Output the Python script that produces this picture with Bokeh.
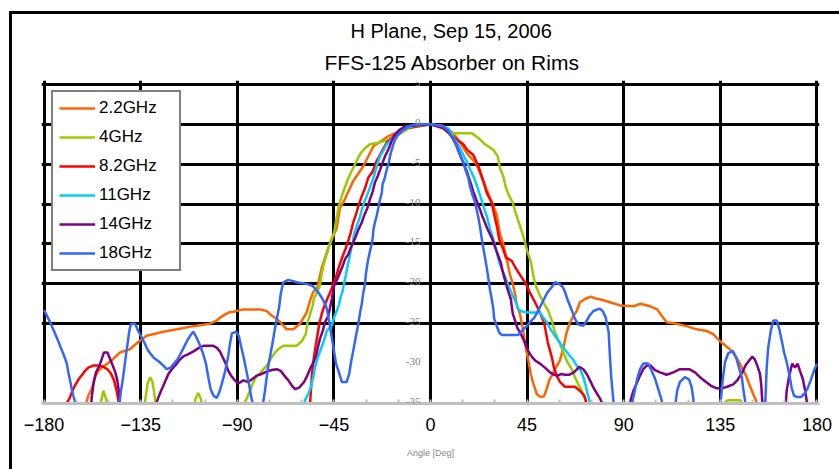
from bokeh.plotting import figure
from bokeh.models import (Range1d, FixedTicker, Legend, LegendItem, Title, LabelSet,
                          ColumnDataSource, Grid)
from bokeh.embed import file_html
from bokeh.resources import INLINE

title_line1 = "H Plane, Sep 15, 2006"
title_line2 = "FFS-125 Absorber on Rims"
x_title = "Angle [Deg]"

x_ticks = [-180, -135, -90, -45, 0, 45, 90, 135, 180]
x_minor = [-165, -150, -120, -105, -75, -60, -30, -15, 15, 30, 60, 75, 105, 120, 150, 165]
y_ticks = [5, 0, -5, -10, -15, -20, -25, -30, -35]
y_grid = [5, 0, -5, -10, -15, -20, -25]

series_names = ["2.2GHz", "4GHz", "8.2GHz", "11GHz", "14GHz", "18GHz"]
series_colors = ["#FF6600", "#99CC00", "#FF0000", "#00CCFF", "#800080", "#3366FF"]

ang_22 = [-180, -163, -160.2, -159.4, -157.8, -156.3, -154.7, -153.1, -148.5, -144.6, -140, -135.3, -132.2,
          -124.4, -118.2, -110.5, -102.7, -99.6, -97.3, -94.2, -91.8, -87.2, -79.4, -76.3, -74.8, -71.6,
          -69.3, -67, -63.9, -60.8, -57.7, -56.1, -54.6, -52.7, -50.7, -47.6, -43.7, -42.2, -39.9, -36,
          -31.3, -26.6, -19.7, -10, 0, 6, 11, 14, 16.9, 21.5, 26.2, 29.3, 30.8, 32.4, 33.9, 35.5, 37, 38.3,
          39.4, 40.1, 41.7, 43.2, 44.5, 45.6, 46.7, 47.9, 49.5, 51.3, 52.9, 54.1, 55.3, 56.9, 58, 60.3,
          61.9, 63.4, 64.7, 66.2, 68.1, 69.6, 72, 74.6, 76.6, 79.7, 83.6, 88.3, 94.5, 97.9, 102.2, 105.6,
          107.7, 110, 114.7, 119.3, 124, 128.6, 131.7, 134.5, 137.6, 140.3, 143.4, 145, 147, 148.8, 150.3,
          151.6, 154, 180]
db_22 = [-38, -37, -34.8, -34, -33.2, -31.7, -30.9, -30.5, -29.6, -28.6, -28.2, -27.1, -26.5,
         -26, -25.7, -25.3, -25, -24.6, -24.1, -23.6, -23.5, -23.2, -23.2, -23.4, -23.8, -24.4,
         -25, -25.7, -25.7, -25, -23.6, -22.1, -21, -20.5, -18, -15.5, -13, -10.5, -9.4, -7.1,
         -5.25, -2.75, -1.5, -0.3, 0, -0.2, -1.2, -2.4, -3.6, -5, -8.2, -10.25, -11.3, -13.8, -15, -16.9, -18.8, -20,
         -21.3, -22.5, -23.8, -25.9, -28.2, -29.6, -31.3, -32.5, -33.8, -34.2, -34.1, -33.2, -32.1, -31.3, -30.7, -29.6,
         -28, -26.1, -25, -24.2, -23.4, -22.3, -21.9, -21.6, -21.8, -22, -22.3, -22.7, -22.8, -22.5, -22.8, -23.2,
         -24, -24.8, -25, -25.3, -25.7, -25.9, -26.3, -27.1, -27.8, -28.4, -29.6, -30.5, -31.5, -32.8, -33.8,
         -34.6, -37, -38]

ang_4 = [-180, -155, -153.5, -152.4, -151, -150, -134, -133, -131.8, -130.6, -129.5, -128.5, -127.5, -111,
         -109.5, -108.2, -107, -105.5, -88, -86.4, -85.3, -84.1, -82.8, -81.3, -79.4, -77.1, -75.5, -74,
         -72.4, -70.9, -68.6, -62.3, -60, -58.1, -57.4, -56.1, -54.9, -54.3, -52.7, -51.5, -50.7, -49.5,
         -48.1, -46.5, -44.9, -44, -42.9, -41.8, -40.3, -38.8, -37.2, -35.6, -34.1, -32.5, -30.5, -28.2,
         -24.3, -18.9, -10, 0, 5, 9.1, 19.2, 22.3, 25.4, 29.3, 31.3, 32.4, 33.9, 35.2, 36.7, 38.3, 39.4,
         40.9, 42.5, 44, 45.3, 46.8, 47.9, 49.1, 50.7, 52.5, 54.9, 56.5, 58, 60, 61.9, 63.7, 65.8, 67.3,
         68.9, 70.4, 72, 74, 136, 137.5, 138.5, 144.5, 145.5, 180]
db_4 = [-38, -37, -34.8, -33.4, -34.5, -37, -37, -34.8, -32.5, -31.7, -32.3, -34, -37, -37,
        -34.4, -33.7, -34.4, -37, -37, -34.8, -34.2, -33.4, -32.5, -31.7, -31.2, -30.5, -30, -29.2,
        -28.6, -28.2, -27.75, -27.75, -27.2, -26.3, -25, -23.8, -22.75, -21.8, -21, -20.2, -18.8, -17.3,
        -16.1, -14.6, -13.6, -12.1, -10.5, -9.4, -8.2, -7.1, -6.1, -5.25, -4.4, -3.6, -3, -2.5,
        -2.3, -1.9, -0.5, 0, -0.4, -1.1, -1.1, -1.7, -2.5, -3.2, -4, -5.5, -6.5, -8, -9, -9.8, -10.9,
        -12.1, -13.4, -14.8, -16.1, -17.3, -19, -20.25, -21.3, -22.3, -23.4, -24.6, -26.1, -27.3, -28.6, -29.8, -30.7, -31.7,
        -32.6, -33.4, -34.2, -37, -37, -34.8, -34.6, -34.6, -37, -38]

ang_82 = [-180, -171, -169.1, -168.2, -167.1, -165.6, -164, -162.5, -160.9, -159.4, -157.1, -154.7, -152.4,
          -150.5, -148.9, -147.4, -146.2, -145.4, -144, -58, -56.1, -55.7, -55.3, -54.9, -54.3, -53.5, -52.7,
          -51.8, -50.7, -49.5, -48.1, -46.8, -44.9, -43.7, -42.2, -40.6, -39.4, -38.3, -37.2, -36, -34.7,
          -33.6, -32, -30.5, -29, -26.9, -25.1, -22.7, -20.4, -17.3, -11.9, 0, 6, 9, 12.2, 15.3, 17.1, 19.9,
          22.3, 24.6, 26.2, 28.5, 30, 31.1, 32, 33.9, 35.2, 37.8, 40.1, 42, 44.5, 46.3, 47.9, 49.5, 51.3,
          52.9, 53.8, 54.6, 55.7, 56.7, 57.5, 58.8, 60.3, 62.6, 67.3, 69.6, 71.5, 72.3, 74, 180]
db_82 = [-38, -37, -34.8, -34.4, -33.6, -32.75, -32, -31.5, -30.9, -30.5, -30.25, -30.25, -30.4,
         -30.7, -31.2, -32.1, -33.4, -34.6, -37, -37, -35, -33.4, -31.7, -30.5, -29.2, -27.75, -26.5,
         -25, -23.8, -22.8, -21.9, -21.1, -19.8, -18.8, -17.5, -16.3, -15.5, -14.6, -13.6, -12.3, -11.3,
         -10.25, -9, -8, -6.7, -5.9, -4.6, -3.4, -2.3, -1.5, -0.5, 0, -0.5, -1.2, -1.9, -2.5, -3.2, -3.8,
         -5.25, -7.1, -8.6, -9.8, -11.7, -13, -14.4, -15.7, -16.7, -17.1, -18.2, -19, -20, -21.1, -21.9, -22.75, -23.8,
         -24.8, -26.1, -27.3, -28.4, -29.4, -30.5, -31.5, -32.3, -32.9, -32.9, -33.4, -34, -34.6, -37, -38]

ang_11 = [-180, -60, -58.5, -56.9, -55.8, -54.6, -53.8, -52.7, -51.1, -49.6, -48.3, -46, -44.9, -43.7,
          -42.6, -41.8, -41.1, -40.3, -39.5, -38.8, -37.9, -37.2, -36.2, -35.6, -34.4, -33.2, -32, -31,
          -29.7, -28.2, -26.9, -25.9, -24.8, -23.5, -22, -20.4, -18.1, -16.5, -14.2, -8, 0, 5, 8.3, 10.3,
          12.2, 14.1, 15.6, 17.1, 18.7, 20.3, 21.5, 22.7, 23.8, 24.9, 26.2, 27.2, 28, 29.3, 30.4, 31.3, 32,
          33.6, 35.2, 36.7, 38.3, 39.8, 40.9, 43, 45.4, 51, 52.5, 54.1, 56, 58, 60, 61.9, 64.2, 66.2, 68.1,
          70, 71.2, 72.3, 73.2, 74, 76, 180]
db_11 = [-38, -37, -34.6, -33.8, -33, -31.7, -30.5, -29.4, -28.2, -27.1, -25.9, -25.25, -24.2, -23.4,
         -22.6, -21.6, -21.1, -20, -19, -18, -16.9, -15.9, -14.8, -13.8, -12.75, -11.9, -10.7, -9.8,
         -9, -7.9, -6.9, -6.1, -5, -4, -3.3, -2.5, -1.9, -1.3, -0.7, -0.2, 0, -0.2, -0.5, -1.5,
         -2.3, -3.2, -4, -4.8, -5.8, -6.7, -7.6, -8.6, -9.5, -10.5, -11.5, -12.5, -13.4, -14.4, -15.5, -16.5, -17.3,
         -18.4, -19.4, -20.5, -21.5, -22.3, -23.2, -23.5, -23.6, -23.6, -24.2, -24.8, -25.7, -26.5, -27.3, -28, -28.8, -29.4, -30.25,
         -30.9, -31.7, -32.75, -33.8, -34.6, -37, -38]

ang_14 = [-180, -160, -158, -157.8, -157.3, -156.7, -155.8, -154.2, -153.1, -152.1, -150.5, -149.3, -148,
          -146.8, -145.9, -145.2, -144.6, -143, -129, -127.5, -126.7, -125.5, -124.4, -123.2, -122.1, -120.5,
          -119, -117.1, -115.1, -112.8, -110, -107.7, -105.5, -101.4, -99.6, -98, -96.8, -95.4, -94.2, -92.9,
          -91.5, -89.5, -87.2, -84.9, -82.8, -80.9, -78.6, -76.3, -74, -71.6, -69.8, -67.8, -66.2, -64.6,
          -63.1, -61.1, -58.9, -57.4, -55.8, -54.3, -53.3, -52.5, -51.5, -50.2, -49.1, -47.6, -46.8, -46,
          -44.9, -43.4, -42.2, -40.9, -39.8, -38.3, -37.2, -36, -34.7, -33.6, -32, -31, -29.4, -28.2, -26.9,
          -25.9, -24.6, -23.5, -22.3, -21.2, -19.7, -18.4, -16.9, -14.5, -11.9, 0, 6, 8.3, 10.3, 11.9, 13.1,
          14.3, 15.6, 16.9, 17.9, 18.9, 19.9, 21, 22.1, 23.1, 24.1, 25.2, 26.2, 27.2, 28.5, 29.6, 30.5, 31.6,
          32.7, 33.6, 34.6, 35.5, 36.4, 37.4, 38.3, 39.4, 40.4, 41.7, 43.2, 44.5, 45.7, 47.1, 48.7, 51, 53.3,
          55.7, 57.5, 59, 61.1, 62.6, 64.5, 66.8, 69.3, 71.2, 72.8, 74.3, 75.9, 77.4, 79, 79.7, 81, 92, 93.3,
          94.5, 96, 97.6, 99.1, 100.7, 102.6, 104.6, 106.9, 110, 113.1, 116.2, 120.5, 123.2, 125.5, 127.9,
          130.5, 133.3, 135.6, 138.2, 141, 142.9, 145, 147, 148.8, 149.9, 151.1, 152.2, 153.5, 154.1, 154.5,
          155.5, 165, 165.9, 167.1, 168.5, 169.8, 171, 172.1, 173.4, 174.4, 175.2, 176, 180]
db_14 = [-38, -37, -35, -34.2, -33.2, -32.1, -31.1, -30.25, -29.4, -28.6, -28.6, -29.4, -30.25,
         -31.1, -32.1, -33.4, -35, -37, -37, -34.8, -34.2, -33.4, -32.75, -32, -31.3, -30.7,
         -30.25, -29.6, -29.1, -28.8, -28.4, -28, -27.75, -27.75, -28, -28.5, -29.2, -30, -30.9, -31.5,
         -32, -32.5, -32.1, -32.3, -31.9, -31.5, -31.3, -31, -30.8, -30.7, -30.9, -31.6, -32.1, -32.75,
         -33.2, -33, -32.3, -31.5, -30.5, -29.7, -29, -28, -26.9, -25.9, -24.8, -24, -23, -21.9,
         -20.25, -19.4, -18.6, -17.75, -16.9, -16.3, -15.5, -14.8, -14, -13.2, -12.3, -11.5, -10.5, -9.4, -8.4,
         -7.3, -6.5, -5.7, -4.8, -4, -3.2, -2.3, -1.4, -0.7, -0.25, 0, -0.4, -1, -1.7, -2.5, -3.4,
         -4.2, -5, -5.9, -6.7, -7.5, -8.4, -9.2, -10, -10.7, -11.5, -12.2, -12.9, -13.5, -14.2, -15, -15.7, -16.5,
         -17.3, -18.4, -19.4, -20.3, -21.1, -21.9, -23.7, -24.6, -25.5, -26.1, -26.9, -27.75, -28.5, -29.1, -29.6, -30, -30.5,
         -31.1, -31.4, -31.5, -31.3, -31.4, -31.4, -31.1, -30.4, -30.7, -31.3, -32.1, -33, -33.7, -34.4, -34.8, -37, -37, -34.5,
         -33.4, -32.5, -31.5, -30.7, -30.25, -30.25, -30.8, -31.1, -31.4, -31.1, -30.7, -30.7, -31.1, -31.7, -32.2,
         -32.75, -33.1, -33.1, -32.9, -32.6, -32.1, -31.2, -30.1, -29.5, -29.1, -29.5, -30.25, -31.3, -32.75, -34.6,
         -37, -37, -33.4, -31.5, -30, -30.5, -30, -30.9, -31.9, -33.2, -34.6, -37, -38]

ang_18 = [-180, -179.4, -177.2, -175.4, -173.8, -172.2, -170.7, -169.4, -168.7, -167.9, -167.1, -166.4, -165.6,
          -164, -146, -144.9, -144.3, -143.4, -142.6, -141.8, -141, -140.3, -139.5, -137.6, -136.5, -135,
          -133.4, -131.9, -130.3, -128.8, -126.7, -124.4, -122.9, -121, -119.5, -117.9, -116.3, -114.8, -113.3,
          -111.7, -110.5, -109.2, -107.7, -106.1, -104.6, -103.5, -102.4, -101.1, -99.6, -98.4, -97.3, -95.7,
          -94.2, -93.4, -92.5, -90.6, -89.3, -88.3, -86.9, -85.6, -84.4, -83.5, -82.8, -81, -79, -77.9, -77.1,
          -76.3, -75.4, -74.4, -73.5, -72.4, -71.3, -70.4, -69.8, -68.6, -66.2, -62.3, -57.7, -54.9, -52.7,
          -50.7, -48.7, -48.1, -47, -45.5, -44, -42.4, -41.3, -39, -37.9, -37, -36, -34.7, -33.6, -32.8, -32,
          -31.3, -30.5, -30.2, -29.7, -29, -28.2, -27.4, -26.9, -26.6, -25.9, -25.1, -24.3, -23.5, -22.7, -22.3,
          -21.3, -20.4, -19.3, -18.5, -17.6, -16.5, -15, -12.7, -10.3, -7.2, 0, 6, 8.3, 9.9, 11.4, 12.9, 14.1,
          15.3, 16.4, 17.6, 18.4, 19.5, 20.7, 21.5, 22.3, 23.1, 23.8, 24.6, 25.4, 26.2, 26.9, 27.7, 28.5, 29.3,
          29.6, 30.8, 32, 33.2, 40.9, 42.5, 44.5, 46.3, 48.2, 49.7, 51.3, 52.9, 54.4, 56.5, 58, 60, 61.6, 62.8,
          63.7, 65, 66.2, 67.3, 68.9, 71.2, 72.8, 74.3, 75.9, 78.7, 80.2, 81.6, 82.4, 83, 83.6, 84.2, 84.9,
          85.2, 86, 93, 94.2, 95.3, 96.3, 97.6, 99.1, 101.4, 103, 104.6, 106.1, 107.7, 108.5, 113.5, 114.3,
          114.9, 116.2, 118.5, 120.5, 121.7, 122.4, 123, 134.5, 135.2, 136.1, 137.2, 138.7, 140.8, 142.3,
          143.7, 145, 145.7, 146.5, 147.5, 155, 156, 156.6, 157.3, 158.5, 159.7, 161.3, 162.5, 163.6, 164.7,
          165.9, 167.1, 168.2, 169.3, 170.8, 172.6, 174, 175.5, 177.1, 178.6, 180]
db_18 = [-23.3, -23.6, -24.8, -25.9, -26.9, -28, -29, -30, -31.1, -32.1, -33.2, -34, -34.8,
         -37, -37, -35, -33.6, -32.1, -30.5, -28.8, -27.3, -25.9, -25, -25, -25.7, -26.5,
         -27.3, -28.2, -28.8, -29.3, -29.7, -30.25, -30.7, -30.5, -30, -29.5, -28.7, -27.9, -27.1,
         -26.4, -26, -26.6, -27.5, -28.6, -30, -31.7, -33.2, -34, -34.3, -33.6, -32.6, -31,
         -29, -27.5, -26.2, -26, -26.5, -27.75, -29.4, -31.1, -32.75, -34.2, -35, -37, -37, -34.8, -33.4,
         -31.7, -30, -28.6, -27.3, -25.5, -24, -22.75, -21.3, -19.8, -19.5, -19.8, -20, -20.25, -20.9,
         -21.7, -22.75, -23.4, -25, -27.5, -30, -31.3, -32.3, -32.3, -31.3, -29.8, -28.4, -26.5, -25, -23.6, -22.5,
         -21.1, -20, -19, -18, -16.9, -15.9, -15, -14.2, -13.2, -12.3, -11.5, -10.5, -9.4, -8.6, -7.5,
         -6.7, -5.7, -4.6, -3.6, -2.75, -1.9, -1.3, -0.7, -0.25, 0, 0, -0.25, -0.8, -1.6, -2.3, -3.2, -4,
         -4.8, -5.8, -6.7, -7.75, -8.8, -9.7, -10.7, -11.7, -12.9, -14.2, -15.5, -16.7, -18, -19.2, -20.7, -21.9, -23.2,
         -24.3, -25.25, -26.1, -26.4, -26.4, -25.9, -25.4, -24.8, -24.3, -23.6, -22.75, -21.9, -21.1, -20.4, -19.8, -20, -20.4, -21.1,
         -21.9, -22.75, -23.6, -24.4, -25.1, -25.25, -24.6, -23.9, -23.4, -23.1, -23.4, -24.2, -25.25, -26.1, -29.2, -31.7, -33.8,
         -34.6, -37, -37, -34.6, -33.2, -31.9, -30.7, -30, -30, -30.9, -31.9, -33.2, -34.6, -37, -37, -34.6,
         -33.4, -32.3, -31.7, -32, -33, -34.4, -37, -37, -34.6, -32.1, -29.8, -28.7, -28.4, -29.2,
         -30.5, -31.7, -33.2, -34.6, -37, -37, -34.6, -30.5, -28, -25.9, -24.6, -24.6, -25.7, -27.1, -28.6,
         -29.8, -31.3, -33, -34, -34.2, -34.2, -33.8, -33.2, -32.1, -30.9, -30]

angles = [ang_22, ang_4, ang_82, ang_11, ang_14, ang_18]
levels = [db_22, db_4, db_82, db_11, db_14, db_18]

FONT = "Liberation Sans"

p = figure(width=839, height=469, output_backend="svg", toolbar_location=None,
           x_range=Range1d(-181.2, 181.2), y_range=Range1d(-35, 5.5),
           y_axis_location=None, title=None,
           min_border_left=41, min_border_right=20, min_border_top=80, min_border_bottom=66)
p.outline_line_color = None
p.background_fill_color = "white"
p.border_fill_color = None
# outer chart frame (left and top edges; the rest lies beyond the window)
p.styles = {
    "background": ("linear-gradient(#000, #000) 9px 11px / 3px 100% no-repeat, "
                   "linear-gradient(#000, #000) 9px 11px / 100% 3px no-repeat, #fff"),
}

# grids
p.xgrid.ticker = FixedTicker(ticks=x_ticks)
p.xgrid.grid_line_color = "black"
p.xgrid.grid_line_width = 3
p.ygrid.grid_line_color = None
p.add_layout(Grid(dimension=1, ticker=FixedTicker(ticks=y_grid),
                  grid_line_color="black", grid_line_width=3))

# x axis
ax = p.xaxis[0]
ax.ticker = FixedTicker(ticks=x_ticks, minor_ticks=x_minor)
ax.axis_line_color = "#c0c0c0"
ax.axis_line_width = 3
ax.major_tick_in = 4
ax.major_tick_out = 0
ax.major_tick_line_color = "#c0c0c0"
ax.major_tick_line_width = 2
ax.minor_tick_in = 4
ax.minor_tick_out = 0
ax.minor_tick_line_color = "#c0c0c0"
ax.minor_tick_line_width = 2
ax.major_label_text_font = FONT
ax.major_label_text_font_size = "18px"
ax.major_label_text_color = "black"
ax.major_label_standoff = 14
ax.axis_label = x_title
ax.axis_label_text_font = FONT
ax.axis_label_text_font_size = "9px"
ax.axis_label_text_font_style = "normal"
ax.axis_label_text_color = "#888888"
ax.axis_label_standoff = 14

# y labels along the centre axis
ysrc = ColumnDataSource(dict(x=[0] * len(y_ticks), y=y_ticks, text=[str(v) for v in y_ticks]))
p.add_layout(LabelSet(x="x", y="y", text="text", source=ysrc, x_offset=-10, y_offset=2,
                      text_align="right", text_baseline="middle", text_font=FONT,
                      text_font_size="11px", text_color="#808080"))

items = []
for name, col, xs, ys in zip(series_names, series_colors, angles, levels):
    r = p.line(xs, ys, line_color=col, line_width=2.5)
    items.append(LegendItem(label=name, renderers=[r]))

legend = Legend(items=items, location="top_left", margin=10, padding=6,
                label_height=18, glyph_height=18, glyph_width=36, spacing=9,
                label_standoff=4, label_width=74,
                label_text_font=FONT, label_text_font_size="17px", label_text_color="black",
                border_line_color="black", border_line_width=2,
                background_fill_color="white", background_fill_alpha=1.0)
p.add_layout(legend)

p.add_layout(Title(text=title_line2, align="left", text_font=FONT, text_font_size="21px",
                   text_font_style="normal", text_color="black", standoff=14, offset=283), "above")
p.add_layout(Title(text=title_line1, align="left", text_font=FONT, text_font_size="20px",
                   text_font_style="normal", text_color="black", standoff=0, offset=309), "above")

open("out.html", "w").write(file_html(p, INLINE))
